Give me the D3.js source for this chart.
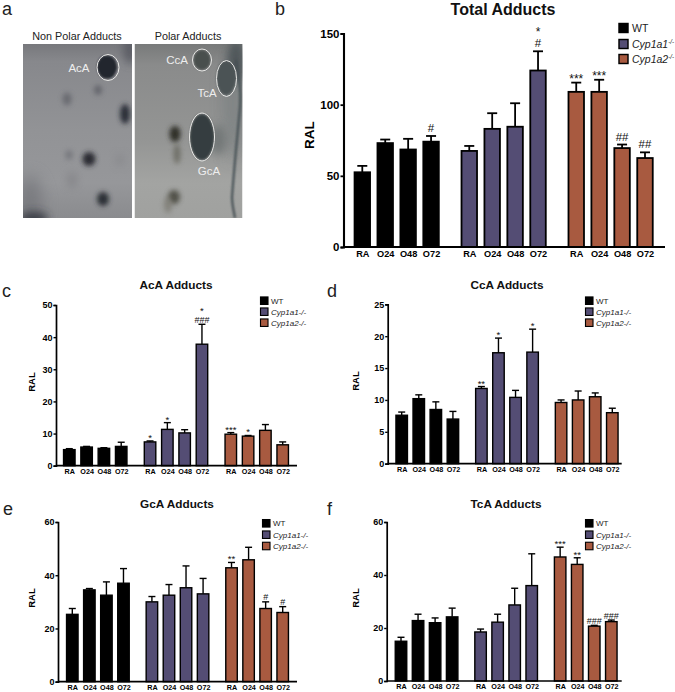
<!DOCTYPE html>
<html><head><meta charset="utf-8">
<script src="https://cdnjs.cloudflare.com/ajax/libs/d3/7.8.5/d3.min.js"></script>
<style>html,body{margin:0;padding:0;background:#fff}svg{display:block}text{font-family:"Liberation Sans",Arial,sans-serif}</style>
</head><body><svg id="c" width="675" height="692"></svg>
<script>
const conditions = ["RA","O24","O48","O72"];
const genotypes = ["WT","Cyp1a1","Cyp1a2"];
const colors = ["#000000","#544d74","#a85a40"];

const totalMeans = [52.5,73,68.5,74, 67.5,83,84.5,124, 109,109,69.5,62.5];
const totalTops  = [57,75.5,76,78, 71,94,101,137.5, 115.5,117.5,72,66.5];
const totalMarks = [[3,["#"]],[7,["*","#"]],[8,["***"]],[9,["***"]],[10,["##"]],[11,["##"]]];

const acaMeans = [5,5.8,5.4,6, 7.4,11.3,10.2,37.8, 9.8,9.2,11,6.5];
const acaTops  = [5.3,6,5.6,7.3, 7.7,13.4,11.2,44, 10.3,9.4,12.8,7.4];
const acaMarks = [[4,["*"]],[5,["*"]],[7,["*","###"]],[8,["***"]],[9,["*"]]];

const ccaMeans = [7.6,10.2,8.5,7, 11.8,17.4,10.4,17.5, 9.6,10,10.5,8];
const ccaTops  = [8.1,10.8,9.7,8.2, 12.1,19.7,11.5,21.1, 10,11.4,11.1,8.7];
const ccaMarks = [[4,["**"]],[5,["*"]],[7,["*"]]];

const gcaMeans = [25.3,34.5,32.5,37, 30,32.5,35.3,33, 42.8,45.8,27.5,26];
const gcaTops  = [27.5,35,37.5,42.5, 32,36.5,43.5,38.8, 44.8,50.5,30,28.2];
const gcaMarks = [[8,["**"]],[10,["#"]],[11,["#"]]];

const tcaMeans = [15,22.8,22,24.2, 18.5,22.2,28.7,36, 46.8,44,20.7,22.4];
const tcaTops  = [16.5,25.2,23.8,27.5, 19.6,25.2,35,48, 50.5,46.5,21,23];
const tcaMarks = [[8,["***"]],[9,["**"]],[10,["###"]],[11,["###"]]];

const svg = d3.select("#c");
const defs = svg.append("defs");
[["b1",1.3],["b2",2.6],["b3",4.5],["b5",8]].forEach(([id,s])=>{
  defs.append("filter").attr("id",id).attr("x","-80%").attr("y","-80%").attr("width","260%").attr("height","260%")
    .append("feGaussianBlur").attr("stdDeviation",s);
});
function grad(id,stops){
  const g=defs.append("linearGradient").attr("id",id).attr("x1",0).attr("y1",0).attr("x2",0).attr("y2",1);
  stops.forEach(([o,c])=>g.append("stop").attr("offset",o).attr("stop-color",c));
}
grad("gl",[[0,"#77787c"],[.1,"#87888c"],[.5,"#929396"],[.8,"#96979a"],[1,"#8a8b8e"]]);
grad("gr",[[0,"#787a7a"],[.12,"#8a8b8b"],[.55,"#949594"],[.8,"#a3a4a2"],[1,"#a0a19f"]]);
defs.append("clipPath").attr("id","cl").append("rect").attr("x",23).attr("y",44).attr("width",109).attr("height",174);
defs.append("clipPath").attr("id","cr").append("rect").attr("x",134.5).attr("y",44).attr("width",108).attr("height",174);

function photo(){
  const t=(s,x,y,fs,fill)=>svg.append("text").attr("x",x).attr("y",y).attr("font-size",fs).attr("fill",fill||"#222").attr("text-anchor","middle").text(s);
  const L=svg.append("g").attr("clip-path","url(#cl)");
  L.append("rect").attr("x",23).attr("y",44).attr("width",109).attr("height",174).attr("fill","url(#gl)");
  const spot=(g,cx,cy,rx,ry,c,f,o)=>g.append("ellipse").attr("cx",cx).attr("cy",cy).attr("rx",rx).attr("ry",ry).attr("fill",c).attr("filter","url(#"+f+")").attr("opacity",o==null?1:o);
  spot(L,30,205,12,30,"#6e6f74","b5",.7);
  spot(L,34,218,14,6,"#33353d","b3",.9);
  spot(L,130,50,7,14,"#585a62","b3",.9);
  spot(L,107,67,10,11.5,"#22252f","b1");
  spot(L,98,90,4,5,"#5d5f66","b2",.85);
  spot(L,67,99,4.5,6.5,"#63656c","b2",.85);
  spot(L,125,114,5,10,"#2a2d38","b2");
  spot(L,89,159,6.5,7,"#292a33","b2");
  spot(L,69,155,4,5,"#6d6e74","b2",.7);
  spot(L,103,199,6,7,"#2c2d35","b2");
  spot(L,72,180,5,8,"#7b7c80","b3",.6);
  spot(L,120,160,4,6,"#7b7c80","b3",.5);
  const R=svg.append("g").attr("clip-path","url(#cr)");
  R.append("rect").attr("x",134.5).attr("y",44).attr("width",108).attr("height",174).attr("fill","url(#gr)");
  spot(R,233,105,9,55,"#7c8182","b5",.9);
  spot(R,236,62,9,22,"#4d5558","b3",.95);
  R.append("path").attr("d","M236,60C240,80 241,95 240,107C238,130 235,157 232,197C232,205 234,212 235,218").attr("fill","none").attr("stroke","#454f53").attr("stroke-width",2.2).attr("filter","url(#b1)");
  spot(R,202,60,8.5,10,"#4a4f4e","b1");
  spot(R,226,78,9.5,17,"#4b5355","b1");
  spot(R,218,140,8,15,"#6f7574","b3",.9);
  spot(R,202,137,12,23,"#363e3f","b1");
  spot(R,175,134,5.5,8,"#2f2e27","b2");
  spot(R,177,154,3.5,10,"#6b6a62","b2",.9);
  spot(R,174,197,6,7,"#4e4d44","b2",.95);
  spot(R,168,205,4,8,"#7b7a72","b2",.8);
  const ring=(cx,cy,rx,ry)=>svg.append("ellipse").attr("cx",cx).attr("cy",cy).attr("rx",rx).attr("ry",ry).attr("fill","none").attr("stroke","#e8e8e6").attr("stroke-width",1);
  ring(108,67.5,11,13); ring(202,60,9.5,11); ring(226.5,78.5,10,18); ring(202,137,12.5,24);
  t("Non Polar Adducts",77,39.5,10.8); t("Polar Adducts",188,39.5,10.8);
  t("AcA",79,72,11.5,"#eee"); t("CcA",177,64,11.5,"#eee"); t("TcA",207,97,11.5,"#eee"); t("GcA",209,175,11.5,"#eee");
}
photo();

function chart(o){
  const g=svg.append("g");
  const slots=d3.range(12).map(i=>i+Math.floor(i/4)*o.gap);
  const x=d3.scaleLinear().domain([0,slots[11]]).range([o.x0,o.x1]);
  const y=d3.scaleLinear().domain([0,o.max]).range([o.y0,o.yt]);
  const yAxis=d3.axisLeft(y).tickValues(o.ticks).tickSize(o.tick).tickPadding(1).tickFormat(d3.format("d"));
  const yg=g.append("g").attr("transform",`translate(${o.ax},0)`).call(yAxis);
  yg.select(".domain").attr("stroke","#000").attr("stroke-width",o.sw+.3);
  yg.selectAll(".tick line").attr("stroke","#000").attr("stroke-width",o.sw);
  yg.selectAll(".tick text").attr("font-size",o.fsTick).attr("font-weight","bold").attr("fill","#000");
  const b=g.selectAll(".bar").data(o.means).enter().append("g");
  b.append("line").attr("x1",(d,i)=>x(slots[i])).attr("x2",(d,i)=>x(slots[i]))
    .attr("y1",d=>y(d)).attr("y2",(d,i)=>y(o.tops[i])).attr("stroke","#000").attr("stroke-width",o.sw);
  b.append("line").attr("x1",(d,i)=>x(slots[i])-o.cap/2).attr("x2",(d,i)=>x(slots[i])+o.cap/2)
    .attr("y1",(d,i)=>y(o.tops[i])).attr("y2",(d,i)=>y(o.tops[i])).attr("stroke","#000").attr("stroke-width",o.sw);
  b.append("rect").attr("x",(d,i)=>x(slots[i])-o.bw/2).attr("width",o.bw)
    .attr("y",d=>y(d)).attr("height",d=>y(0)-y(d))
    .attr("fill",(d,i)=>colors[Math.floor(i/4)]).attr("stroke","#000").attr("stroke-width",o.sw);
  g.append("line").attr("x1",o.ax).attr("x2",o.end).attr("y1",y(0)).attr("y2",y(0)).attr("stroke","#000").attr("stroke-width",o.sw+.3);
  const xAxis=d3.axisBottom(x).tickValues(slots).tickSize(0).tickPadding(o.catPad).tickFormat((d,i)=>conditions[i%4]);
  const xg=g.append("g").attr("transform",`translate(0,${y(0)})`).call(xAxis);
  xg.select(".domain").remove();
  xg.selectAll("text").attr("font-size",o.fsCat).attr("font-weight","bold").attr("fill","#000");
  o.marks.forEach(([i,rows])=>{
    const top=y(o.tops[i]);
    rows.forEach(s=>{
      const star=s[0]==="*";
      const base=star?(rows.length>1?top-o.starAbove:top+o.starDrop):top-o.hashGap;
      g.append("text").attr("x",x(slots[i])).attr("y",base)
        .attr("text-anchor","middle").attr("font-size",star?o.fsStar:o.fsHash).attr("fill","#111").text(s);
    });
  });
  g.append("text").attr("x",o.tx).attr("y",o.ty).attr("text-anchor","middle").attr("font-size",o.fsTitle).attr("font-weight","bold").attr("fill","#111").text(o.title);
  g.append("text").attr("transform",`translate(${o.rx},${o.ry}) rotate(-90)`).attr("text-anchor","middle").attr("font-size",o.fsRal).attr("font-weight","bold").attr("fill","#000").text("RAL");
  genotypes.forEach((n,i)=>{
    const yy=o.ly[i];
    g.append("rect").attr("x",o.lx).attr("y",yy-o.ls/2).attr("width",o.ls).attr("height",o.ls).attr("fill",colors[i]).attr("stroke","#000").attr("stroke-width",o.sw*.8);
    const t=g.append("text").attr("x",o.lx+o.ls+o.lg).attr("y",yy+o.fsLeg*.36).attr("font-size",o.fsLeg).attr("fill","#222");
    if(i===0) t.text(n);
    else if(o.sup){ t.append("tspan").attr("font-style","italic").text(n);
      t.append("tspan").attr("font-style","italic").attr("font-size",o.fsLeg*.6).attr("dy",-o.fsLeg*.35).text("-/-"); }
    else t.append("tspan").attr("font-style","italic").text(n+"-/-");
  });
}
const small={gap:.667,tick:2.5,sw:1.4,cap:7,bw:11.5,fsTick:9,fsCat:7.2,fsStar:9.5,fsHash:9,hashGap:1.5,starAbove:10,starDrop:0,fsTitle:11.8,fsRal:9.5,ls:7.5,lg:3,fsLeg:8,catPad:3};
chart({...small,title:"AcA Adducts",means:acaMeans,tops:acaTops,marks:acaMarks,max:50,ticks:[0,10,20,30,40,50],
  ax:56,end:297,x0:69.3,x1:282.7,y0:465.7,yt:305,tx:176,ty:289,rx:35,ry:382,lx:260.5,ly:[300.7,311.7,322.7]});
chart({...small,title:"CcA Adducts",means:ccaMeans,tops:ccaTops,marks:ccaMarks,max:25,ticks:[0,5,10,15,20,25],
  ax:387.7,end:621.7,x0:401.7,x1:612.3,y0:463.7,yt:304.3,tx:507,ty:289,rx:359,ry:381,lx:585.5,ly:[300.7,311.7,322.7]});
chart({...small,title:"GcA Adducts",means:gcaMeans,tops:gcaTops,marks:gcaMarks,max:60,ticks:[0,20,40,60],
  ax:58,end:297,x0:72.3,x1:282.7,y0:681.7,yt:522,tx:177,ty:508,rx:35,ry:598,lx:262.5,ly:[523.3,534.7,546]});
chart({...small,title:"TcA Adducts",means:tcaMeans,tops:tcaTops,marks:tcaMarks,max:60,ticks:[0,20,40,60],
  ax:386.7,end:621.7,x0:401,x1:611.3,y0:681,yt:522,tx:506,ty:508,rx:359,ry:598,lx:585.5,ly:[523.3,534.7,546]});
chart({gap:.667,tick:3,sw:1.8,cap:10,bw:15.5,fsTick:11.5,fsCat:9.2,fsStar:12,fsHash:11.5,hashGap:4,starAbove:15,starDrop:0,fsTitle:16,fsRal:13.5,ls:9,lg:4,fsLeg:10.5,catPad:3.5,sup:true,
  title:"Total Adducts",means:totalMeans,tops:totalTops,marks:totalMarks,max:150,ticks:[0,50,100,150],
  ax:343.5,end:665,x0:362.3,x1:645,y0:247,yt:33.5,tx:503,ty:14.5,rx:314,ry:135,lx:619,ly:[28,44,59]});

[["a",2,15],["b",275,15],["c",2,297],["d",327,297],["e",3,515],["f",327,515]].forEach(([s,x,y])=>{
  svg.append("text").attr("x",x).attr("y",y).attr("font-size",18).attr("fill","#222").text(s);
});
</script></body></html>
